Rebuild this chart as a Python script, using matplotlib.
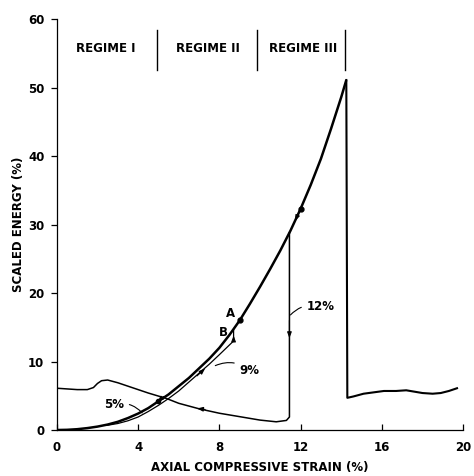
import matplotlib
matplotlib.use("Agg")
import matplotlib.pyplot as plt

# loading curve (strain %, scaled energy %)
load_x = [0, 0.5, 1, 1.5, 2, 2.5, 3, 3.5, 4, 4.5, 5, 5.5, 6, 6.5, 7, 7.5, 8, 8.5, 9,
          9.5, 10, 10.5, 11, 11.5, 12, 12.5, 13, 13.5, 14, 14.25]
load_y = [0, 0.03, 0.12, 0.28, 0.5, 0.8, 1.2, 1.75, 2.4, 3.2, 4.2, 5.2, 6.4, 7.6, 9.0,
          10.4, 12.0, 13.9, 16.0, 18.4, 20.9, 23.5, 26.2, 29.1, 32.3, 35.8, 39.6, 44.0,
          48.6, 51.1]

# failure drop and post-failure
fail_x = [14.25, 14.3, 14.6, 15.1, 15.6, 16.1, 16.7, 17.2, 17.6, 18.0, 18.5, 18.9, 19.3, 19.7]
fail_y = [51.1, 4.7, 4.9, 5.3, 5.5, 5.7, 5.7, 5.8, 5.6, 5.4, 5.3, 5.4, 5.7, 6.1]

# 9% unload / reload
u9_x = [8.7, 8.7, 8.0, 7.5, 7.0, 6.5, 6.0, 5.5, 5.0, 4.5, 4.0, 3.5, 3.0, 2.5]
u9_y = [14.6, 13.0, 11.0, 9.6, 8.3, 7.0, 5.7, 4.6, 3.6, 2.7, 1.9, 1.35, 0.95, 0.7]

# 12% unload
u12_x = [11.45, 11.45, 11.3, 10.8, 10.0, 9.0, 8.0, 7.0, 6.0, 5.4, 4.5, 3.7, 3.0, 2.5,
         2.2, 2.0, 1.8, 1.5, 1.0, 0.5, 0]
u12_y = [28.8, 1.9, 1.4, 1.2, 1.45, 1.95, 2.45, 3.1, 3.9, 4.6, 5.4, 6.2, 6.9, 7.3,
         7.2, 6.8, 6.2, 5.9, 5.9, 6.0, 6.1]

regime_bounds = [4.95, 9.85, 14.2]
regime_names = ["REGIME I", "REGIME II", "REGIME III"]
regime_centers = [2.4, 7.45, 12.1]

x_ticks = [0, 4, 8, 12, 16, 20]
y_ticks = [0, 10, 20, 30, 40, 50, 60]

plt.rcParams['font.family'] = ['DejaVu Sans']
plt.rcParams['font.weight'] = 'bold'

fig = plt.figure(figsize=(4.74, 4.76), dpi=100)
ax = fig.add_axes([0.120, 0.0966, 0.857, 0.8634])

ax.plot(load_x, load_y, 'k', lw=1.8, solid_capstyle='butt')
ax.plot(fail_x, fail_y, 'k', lw=1.5)
ax.plot(u9_x, u9_y, 'k', lw=0.9)
ax.plot(u12_x, u12_y, 'k', lw=1.1)

# dots on the loading curve
ia, ib = load_x.index(9), load_x.index(12)
ax.plot([load_x[ia], load_x[ib]], [load_y[ia], load_y[ib]], 'ko', ms=3.5)
ax.plot([load_x[10]], [load_y[10]], 'ko', ms=3)

def arrow(x0, y0, x1, y1):
    ax.annotate('', xy=(x1, y1), xytext=(x0, y0),
                arrowprops=dict(arrowstyle='-|>,head_length=0.35,head_width=0.13',
                                color='k', lw=0.8, shrinkA=0, shrinkB=0))

arrow(u12_x[0], 16.0, u12_x[0], 13.4)
arrow(7.3, 3.0, 6.9, 3.15)
arrow(u9_x[0], 12.9, u9_x[0], 13.8)
arrow(6.9, 7.9, 7.3, 9.0)
arrow(12.0, 32.3, 11.72, 30.5)
arrow(5.25, 4.9, 4.95, 4.1)

for xb in regime_bounds:
    ax.plot([xb, xb], [52.6, 58.4], 'k', lw=1.0)
for xc, name in zip(regime_centers, regime_names):
    ax.text(xc, 55.7, name, ha='center', va='center', fontsize=8.5, fontweight='bold')

ax.text(8.55, 17.0, 'A', ha='center', va='center', fontsize=8.5, fontweight='bold')
ax.text(8.2, 14.3, 'B', ha='center', va='center', fontsize=8.5, fontweight='bold')

ax.annotate('9%', xy=(7.8, 9.4), xytext=(9.0, 8.7), fontsize=8.5, fontweight='bold',
            va='center', ha='left',
            arrowprops=dict(arrowstyle='-', color='k', lw=0.8,
                            connectionstyle='arc3,rad=0.3', shrinkA=2, shrinkB=0))
ax.annotate('12%', xy=(11.5, 16.8), xytext=(12.3, 18.0), fontsize=8.5, fontweight='bold',
            va='center', ha='left',
            arrowprops=dict(arrowstyle='-', color='k', lw=0.8,
                            connectionstyle='arc3,rad=0.3', shrinkA=2, shrinkB=0))
ax.annotate('5%', xy=(4.2, 2.5), xytext=(3.3, 3.7), fontsize=8.5, fontweight='bold',
            va='center', ha='right',
            arrowprops=dict(arrowstyle='-', color='k', lw=0.8,
                            connectionstyle='arc3,rad=-0.3', shrinkA=2, shrinkB=0))

ax.set_xlim(0, 20)
ax.set_ylim(0, 60)
ax.set_xticks(x_ticks)
ax.set_yticks(y_ticks)
ax.tick_params(axis='x', direction='in', length=4, width=0.9, pad=8, labelsize=8.5)
ax.tick_params(axis='y', direction='out', length=4, width=0.9, pad=5, labelsize=8.5)
for lab in ax.get_xticklabels() + ax.get_yticklabels():
    lab.set_fontweight('bold')
for s in ['top', 'right']:
    ax.spines[s].set_visible(False)
for s in ['left', 'bottom']:
    ax.spines[s].set_linewidth(0.9)

ax.set_xlabel('AXIAL COMPRESSIVE STRAIN (%)', fontsize=8.5, fontweight='bold', labelpad=5)
ax.set_ylabel('SCALED ENERGY (%)', fontsize=8.5, fontweight='bold', labelpad=2)

fig.savefig('out.png', dpi=100)
